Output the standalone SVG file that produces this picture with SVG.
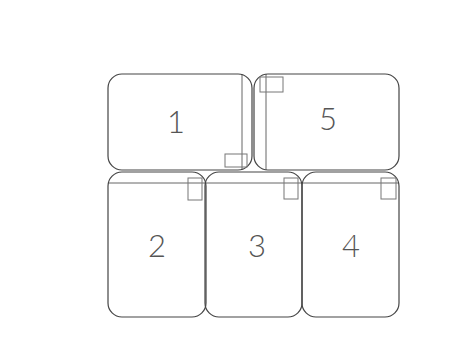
<svg xmlns="http://www.w3.org/2000/svg" width="469" height="363" viewBox="0 0 469 363">
<style>
.box{fill:none;stroke:#444;stroke-width:1.2}
.ln{stroke:#666;stroke-width:1;fill:none}
.sm{fill:none;stroke:#777;stroke-width:1}
.lbl{font-family:"Lato","Open Sans","DejaVu Sans",sans-serif;font-weight:300;font-size:31px;fill:#555;text-anchor:middle}
</style>
<rect width="469" height="363" fill="#fff"/>
<g id="connectors">
<line class="ln" x1="242" y1="74" x2="242" y2="170"/>
<line class="ln" x1="266" y1="74" x2="266" y2="170" stroke="#999"/>
<line class="ln" x1="108" y1="183" x2="399" y2="183"/>
</g>
<g id="node1">
<rect class="box" x="108" y="74" width="144" height="96" rx="14"/>
<rect class="sm" x="225" y="154" width="22" height="13"/>
<text class="lbl" x="176" y="133">1</text>
</g>
<g id="node5">
<rect class="box" x="254" y="74" width="145" height="96" rx="14"/>
<rect class="sm" x="260" y="77" width="23" height="15"/>
<text class="lbl" x="328" y="130">5</text>
</g>
<g id="node2">
<rect class="box" x="108" y="172" width="98" height="145" rx="14"/>
<rect class="sm" x="188" y="178" width="14" height="22"/>
<text class="lbl" x="157" y="257">2</text>
</g>
<g id="node3">
<rect class="box" x="205" y="172" width="97" height="145" rx="14"/>
<rect class="sm" x="284" y="178" width="14" height="21"/>
<text class="lbl" x="257" y="257">3</text>
</g>
<g id="node4">
<rect class="box" x="302" y="172" width="97" height="145" rx="14"/>
<rect class="sm" x="381" y="178" width="15" height="21"/>
<text class="lbl" x="351" y="257">4</text>
</g>
</svg>
